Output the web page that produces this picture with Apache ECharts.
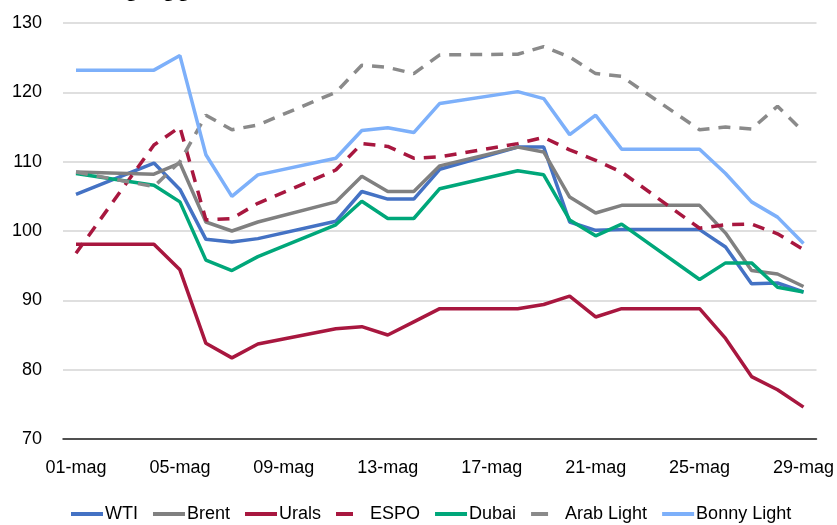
<!DOCTYPE html>
<html>
<head>
<meta charset="utf-8">
<script src="https://cdn.jsdelivr.net/npm/echarts@6/dist/echarts.min.js"></script>
<style>
  html, body { margin: 0; padding: 0; background: #fff; }
  #chart { width: 837px; height: 525px; }
</style>
</head>
<body>
<div id="chart"></div>
<script>
// giorni di maggio sull'asse (tutti i giorni, quelli senza quotazione restano vuoti)
var days = [];
for (var d = 1; d <= 29; d++) {
    days.push((d < 10 ? '0' + d : '' + d) + '-mag');
}
// giorni con quotazione
var tradingDays = [1, 4, 5, 6, 7, 8, 11, 12, 13, 14, 15, 18, 19, 20, 21, 22, 25, 26, 27, 28, 29];

var wti    = [105.3, 109.8, 106.0, 98.8, 98.4, 98.9, 101.4, 105.7, 104.6, 104.6, 108.9, 112.1, 112.1, 101.3, 100.1, 100.2, 100.2, 97.7, 92.4, 92.5, 91.2];
var brent  = [108.5, 108.2, 109.8, 101.3, 100.0, 101.3, 104.2, 107.9, 105.7, 105.7, 109.4, 112.1, 111.4, 104.9, 102.6, 103.7, 103.7, 99.7, 94.3, 93.8, 92.0];
var urals  = [98.1, 98.1, 94.4, 83.8, 81.7, 83.7, 85.9, 86.2, 85.0, 86.9, 88.8, 88.8, 89.4, 90.6, 87.6, 88.8, 88.8, 84.5, 79.0, 77.1, 74.6];
var espo   = [96.8, 112.4, 115.0, 101.6, 101.8, 104.0, 108.8, 112.6, 112.2, 110.5, 110.7, 112.6, 113.5, 111.7, 110.2, 108.5, 100.4, 100.9, 101.0, 99.6, 97.3];
var dubai  = [108.3, 106.6, 104.2, 95.8, 94.3, 96.3, 100.9, 104.3, 101.8, 101.8, 106.1, 108.7, 108.1, 101.6, 99.3, 101.0, 93.0, 95.4, 95.4, 91.9, 91.2];
var arab   = [108.5, 106.4, 110.0, 116.7, 114.6, 115.3, 120.0, 123.9, 123.6, 122.7, 125.4, 125.5, 126.6, 125.1, 122.7, 122.3, 114.6, 115.0, 114.7, 118.0, 114.3];
var bonny  = [123.2, 123.2, 125.3, 111.0, 105.0, 108.1, 110.5, 114.5, 114.9, 114.2, 118.4, 120.1, 119.1, 113.9, 116.7, 111.8, 111.8, 108.3, 104.2, 102.0, 98.2];

// mette i valori sui giorni giusti, null nei fine settimana
function onDays(vals) {
    var out = days.map(function () { return null; });
    tradingDays.forEach(function (day, i) { out[day - 1] = vals[i]; });
    return out;
}

function line(name, vals, color, dashed) {
    return {
        name: name,
        type: 'line',
        data: onDays(vals),
        connectNulls: true,
        symbol: 'none',
        lineStyle: { color: color, width: 3.5, type: dashed ? [12, 9] : 'solid' },
        itemStyle: { color: color }
    };
}

var font = "'Liberation Sans', Arial, sans-serif";

// voce di legenda; quelle tratteggiate mostrano un solo trattino
function legendItem(name, dashed) {
    var item = { name: name };
    if (dashed) {
        item.lineStyle = { type: [17, 40], width: 4 };
    }
    return item;
}

var chart = echarts.init(document.getElementById('chart'));

var option = {
    animation: false,
    backgroundColor: '#fff',
    title: {
        left: 2,
        top: -28,
        text: '{b|Prezzi dei greggi} {n|di riferimento, (dollari per barile, prezzi spot)}',
        textStyle: {
            rich: {
                b: { fontFamily: 'Liberation Sans, Arial', fontSize: 24, fontWeight: 'bold', color: '#000' },
                n: { fontFamily: 'Liberation Sans, Arial', fontSize: 22, color: '#000' }
            }
        }
    },
    grid: { left: 63, right: 19, top: 23, bottom: 86 },
    legend: {
        bottom: -3,
        left: 64,
        itemWidth: 32,
        itemHeight: 4,
        itemGap: 13,
        itemStyle: { opacity: 0 },
        lineStyle: { width: 4 },
        textStyle: { fontFamily: font, fontSize: 18, color: '#000', padding: [0, 0, 0, -3] },
        data: [
            legendItem('WTI'), legendItem('Brent'), legendItem('Urals'),
            legendItem('ESPO', true), legendItem('Dubai'),
            legendItem('Arab Light', true), legendItem('Bonny Light')
        ]
    },
    xAxis: {
        type: 'category',
        data: days,
        boundaryGap: true,
        axisLine: { lineStyle: { color: '#222', width: 1.5 } },
        axisTick: { interval: 3, length: 7, lineStyle: { color: '#222', width: 1.5 } },
        axisLabel: { interval: 3, margin: 20, fontFamily: font, fontSize: 18, color: '#000' },
        splitLine: { show: false }
    },
    yAxis: {
        type: 'value',
        min: 70,
        max: 130,
        interval: 10,
        axisLine: { show: false },
        axisTick: { show: false },
        axisLabel: { margin: 21, fontFamily: font, fontSize: 18, color: '#000' },
        splitLine: { lineStyle: { color: '#d4d4d4', width: 1.5 } }
    },
    series: [
        line('WTI', wti, '#4472C4', false),
        line('Brent', brent, '#808080', false),
        line('Urals', urals, '#A8173F', false),
        line('ESPO', espo, '#A8173F', true),
        line('Dubai', dubai, '#00A77A', false),
        line('Arab Light', arab, '#8A8A8A', true),
        line('Bonny Light', bonny, '#7DB0FA', false)
    ]
};

chart.setOption(option);
</script>
</body>
</html>
